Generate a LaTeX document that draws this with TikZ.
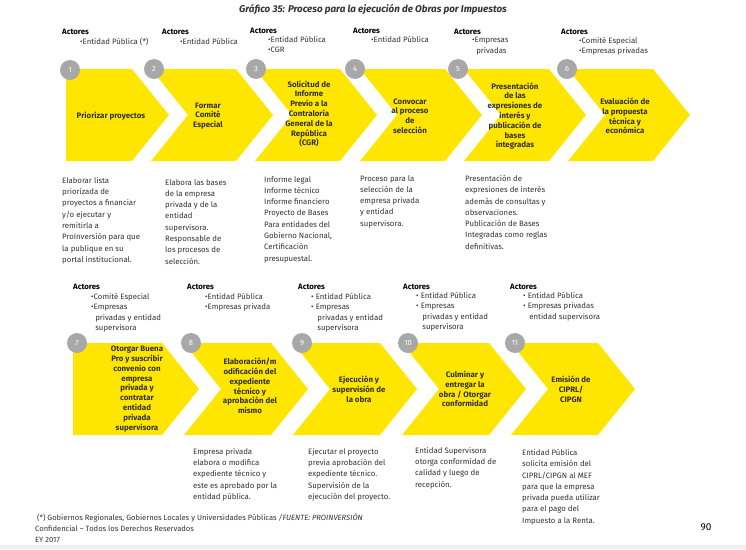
\documentclass[tikz,border=0pt]{standalone}
\usepackage{fontspec}
\setmainfont{Fira Sans}
\definecolor{eyy}{HTML}{FFE600}
\definecolor{badge}{HTML}{A8A8A8}
\definecolor{txt}{HTML}{333333}
\begin{document}
\begin{tikzpicture}[x=1pt,y=-1pt,
  lbl/.style={font=\fontsize{7.9}{9.8}\selectfont\bfseries, align=center, text=txt, inner sep=0pt},
  desc/.style={font=\fontsize{7.8}{11.3}\selectfont, align=left, anchor=north west, text=txt, inner sep=0pt},
  act/.style={font=\fontsize{7.8}{10.5}\selectfont, align=left, anchor=north west, text=txt, inner sep=0pt},
  actt/.style={font=\fontsize{7.8}{8}\selectfont\bfseries, anchor=north west, text=black, inner sep=0pt},
  bdg/.style={circle, fill=badge, minimum size=20pt, inner sep=0pt, text=white, font=\fontsize{7.5}{8}\selectfont}]
\useasboundingbox (0,0) rectangle (746,549);
\fill[white] (0,0) rectangle (746,549);
\fill[black!6] (0,545) rectangle (746,549);
\newcommand\chevn[3]{\fill[eyy] (#1,#3) -- (#2-37,#3) -- (#2,#3+46) -- (#2-37,#3+92) -- (#1,#3+92) -- (#1+37,#3+46) -- cycle;}
\newcommand\chevf[3]{\fill[eyy] (#1,#3) -- (#2-37,#3) -- (#2,#3+46) -- (#2-37,#3+92) -- (#1,#3+92) -- cycle;}
\node[font=\fontsize{9.8}{11}\selectfont\bfseries\itshape, text=txt] (title) at (373,10) {Gráfico 35: Proceso para la ejecución de Obras por Impuestos};
% top row
\chevf{66}{169}{69}
\chevn{151}{273}{69}
\chevn{255}{377}{69}
\chevn{360}{482}{69}
\chevn{464}{586}{69}
\chevn{568}{690}{69}
\node[bdg] (b1) at (70,70) {1};
\node[bdg] (b2) at (154,69) {2};
\node[bdg] (b3) at (256,69) {3};
\node[bdg] (b4) at (355,69) {4};
\node[bdg] (b5) at (458,69) {5};
\node[bdg] (b6) at (567,69) {6};
\node[lbl] (l1) at (111,116) {Priorizar proyectos};
\node[lbl] (l2) at (208,116) {Formar\\Comité\\Especial};
\node[lbl] (l3) at (309,114) {Solicitud de\\Informe\\Previo a la\\Contraloría\\General de la\\República\\(CGR)};
\node[lbl] (l4) at (410,116) {Convocar\\al proceso\\de\\selección};
\node[lbl] (l5) at (515,116) {Presentación\\de las\\expresiones de\\interés y\\publicación de\\bases\\integradas};
\node[lbl] (l6) at (625,116) {Evaluación de\\la propuesta\\técnica y\\económica};
\node[actt] (a1) at (62,29) {Actores};
\node[act] (c1) at (80,38) {•Entidad Pública (*)};
\node[actt] (a2) at (162,29) {Actores};
\node[act] (c2) at (180,38) {•Entidad Pública};
\node[actt] (a3) at (250,28) {Actores};
\node[act] (c3) at (268,36) {•Entidad Pública\\•CGR};
\node[actt] (a4) at (353,28) {Actores};
\node[act] (c4) at (371,36) {•Entidad Pública};
\node[actt] (a5) at (454,29) {Actores};
\node[act] (c5) at (472,37) {•Empresas\\\ \ privadas};
\node[actt] (a6) at (561,29) {Actores};
\node[act] (c6) at (579,37) {•Comité Especial\\•Empresas privadas};
\node[desc] (d1) at (62,177) {Elaborar lista\\priorizada de\\proyectos a financiar\\y/o ejecutar y\\remitirla a\\ProInversión para que\\la publique en su\\portal institucional.};
\node[desc] (d2) at (165,179) {Elabora las bases\\de la empresa\\privada y de la\\entidad\\supervisora.\\Responsable de\\los procesos de\\selección.};
\node[desc] (d3) at (264,176) {Informe legal\\Informe técnico\\Informe financiero\\Proyecto de Bases\\Para entidades del\\Gobierno Nacional,\\Certificación\\presupuestal.};
\node[desc] (d4) at (360,175) {Proceso para la\\selección de la\\empresa privada\\y entidad\\supervisora.};
\node[desc] (d5) at (465,175) {Presentación de\\expresiones de interés\\además de consultas y\\observaciones.\\Publicación de Bases\\Integradas como reglas\\definitivas.};
% bottom row
\chevf{73}{199}{343}
\chevn{184}{308}{343}
\chevn{293}{417}{343}
\chevn{402}{526}{343}
\chevn{511}{635}{343}
\node[bdg] (b7) at (77,343) {7};
\node[bdg] (b8) at (191,343) {8};
\node[bdg] (b9) at (302,343) {9};
\node[bdg] (b10) at (408,343) {10};
\node[bdg] (b11) at (515,343) {11};
\node[lbl] (l7) at (137,389) {Otorgar Buena\\Pro y suscribir\\convenio con\\empresa\\privada y\\contratar\\entidad\\privada\\supervisora};
\node[lbl] (l8) at (250,386) {Elaboración/m\\odificación del\\expediente\\técnico y\\aprobación del\\mismo};
\node[lbl] (l9) at (359,389) {Ejecución y\\supervisión de\\la obra};
\node[lbl] (l10) at (465,389) {Culminar y\\entregar la\\obra / Otorgar\\conformidad};
\node[lbl] (l11) at (571,389) {Emisión de\\CIPRL/\\CIPGN};
\node[actt] (a7) at (73,284) {Actores};
\node[act] (c7) at (91,293) {•Comité Especial\\•Empresas\\\ \ privadas y entidad\\\ \ supervisora};
\node[actt] (a8) at (187,284) {Actores};
\node[act] (c8) at (205,293) {•Entidad Pública\\•Empresas privada};
\node[actt] (a9) at (298,284) {Actores};
\node[act] (c9) at (311,293) {•\ Entidad Pública\\•\ Empresas\\\ \ \ privadas y entidad\\\ \ \ supervisora};
\node[actt] (a10) at (403,284) {Actores};
\node[act] (c10) at (416,292) {•\ Entidad Pública\\•\ Empresas\\\ \ \ privadas y entidad\\\ \ \ supervisora};
\node[actt] (a11) at (510,284) {Actores};
\node[act] (c11) at (523,292) {•\ Entidad Pública\\•\ Empresas privadas\\\ \ \ entidad supervisora};
\node[desc] (d8) at (193,448) {Empresa privada\\elabora o modifica\\expediente técnico y\\este es aprobado por la\\entidad pública.};
\node[desc] (d9) at (308,448) {Ejecutar el proyecto\\previa aprobación del\\expediente técnico.\\Supervisión de la\\ejecución del proyecto.};
\node[desc] (d10) at (415,447) {Entidad Supervisora\\otorga conformidad de\\calidad y luego de\\recepción.};
\node[desc] (d11) at (522,449) {Entidad Pública\\solicita emisión del\\CIPRL/CIPGN al MEF\\para que la empresa\\privada pueda utilizar\\para el pago del\\Impuesto a la Renta.};
% footer
\node[act, font=\fontsize{7.6}{11}\selectfont] (f1) at (35,513) {\ (*) Gobiernos Regionales, Gobiernos Locales y Universidades Públicas \textit{/FUENTE: PROINVERSIÓN}\\Confidencial – Todos los Derechos Reservados\\EY 2017};
\node[font=\fontsize{10}{10}\selectfont, text=black] (pg) at (706,527) {90};
\end{tikzpicture}
\end{document}
